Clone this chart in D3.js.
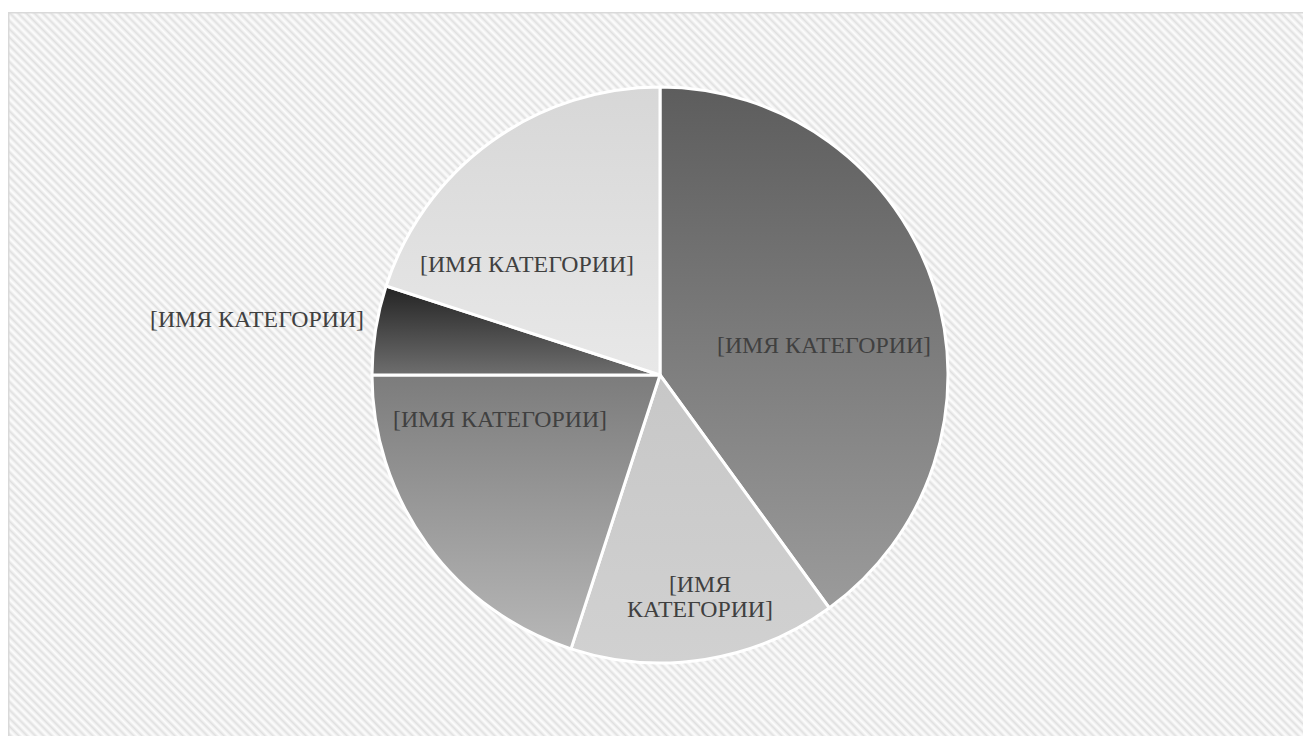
<!DOCTYPE html>
<html>
<head>
<meta charset="utf-8">
<script src="https://cdn.jsdelivr.net/npm/d3@7"></script>
<style>
  html, body { margin: 0; padding: 0; background: #ffffff; }
  svg { display: block; }
</style>
</head>
<body>
<svg id="chart" width="1303" height="736"></svg>
<script>
// Slice data, clockwise from 12 o'clock
const categories = ["[ИМЯ КАТЕГОРИИ]", "[ИМЯ КАТЕГОРИИ]", "[ИМЯ КАТЕГОРИИ]", "[ИМЯ КАТЕГОРИИ]", "[ИМЯ КАТЕГОРИИ]"];
const values = [40, 15, 20, 5, 20];

// Vertical gradient (top colour, bottom colour) for each slice
const gradTop    = ["#5d5d5d", "#c7c7c7", "#7c7c7c", "#232323", "#d7d7d7"];
const gradBottom = ["#9b9b9b", "#d1d1d1", "#b7b7b7", "#6e6e6e", "#e8e8e8"];

// Label placement: offset of the first baseline from the pie centre, and line breaks
const labelOffset = [[164, -22], [40, 217], [-160, 52], [-403, -48], [-133, -103]];
const labelLines  = [[categories[0]], ["[ИМЯ", "КАТЕГОРИИ]"], [categories[2]], [categories[3]], [categories[4]]];

const W = 1303, H = 736;
const cx = 660, cy = 375, R = 288;

const svg = d3.select("#chart");
const defs = svg.append("defs");

// Diagonal hatch for the chart area
const pat = defs.append("pattern")
  .attr("id", "hatch")
  .attr("patternUnits", "userSpaceOnUse")
  .attr("width", 12).attr("height", 5.8)
  .attr("patternTransform", "rotate(45)");
pat.append("rect").attr("width", 12).attr("height", 5.8).attr("fill", "#fcfcfc");
pat.append("rect").attr("y", 0.6).attr("width", 12).attr("height", 1.0).attr("fill", "#ebebeb");
pat.append("rect").attr("y", 1.6).attr("width", 12).attr("height", 1.6).attr("fill", "#e0e0e0");
pat.append("rect").attr("y", 3.2).attr("width", 12).attr("height", 1.0).attr("fill", "#ebebeb");

values.forEach((v, i) => {
  const g = defs.append("linearGradient")
    .attr("id", "grad" + i)
    .attr("x1", 0).attr("y1", 0).attr("x2", 0).attr("y2", 1);
  g.append("stop").attr("offset", 0).attr("stop-color", gradTop[i]);
  g.append("stop").attr("offset", 1).attr("stop-color", gradBottom[i]);
});

// Chart area
svg.append("rect")
  .attr("x", 8.75).attr("y", 12.75)
  .attr("width", W + 20).attr("height", H + 20)
  .attr("fill", "url(#hatch)")
  .attr("stroke", "#d9d9d9")
  .attr("stroke-width", 1.5);

const pie = d3.pie().sort(null).value(d => d);
const arcs = pie(values);
const arc = d3.arc().innerRadius(0).outerRadius(R);

const g = svg.append("g").attr("transform", `translate(${cx},${cy})`);

g.selectAll("path.slice")
  .data(arcs)
  .join("path")
  .attr("class", "slice")
  .attr("d", arc)
  .attr("fill", (d, i) => `url(#grad${i})`)
  .attr("stroke", "#ffffff")
  .attr("stroke-width", 3)
  .attr("stroke-linejoin", "round");

const labels = g.selectAll("text.lbl")
  .data(arcs)
  .join("text")
  .attr("class", "lbl")
  .attr("x", (d, i) => labelOffset[i][0])
  .attr("y", (d, i) => labelOffset[i][1])
  .attr("text-anchor", "middle")
  .attr("font-family", "'Liberation Serif', 'Times New Roman', serif")
  .attr("font-size", 23.8)
  .attr("fill", "#404040");

labels.each(function (d, i) {
  const t = d3.select(this);
  labelLines[i].forEach((line, k) => {
    t.append("tspan")
      .attr("x", labelOffset[i][0])
      .attr("dy", k === 0 ? 0 : 25)
      .text(line);
  });
});
</script>
</body>
</html>
